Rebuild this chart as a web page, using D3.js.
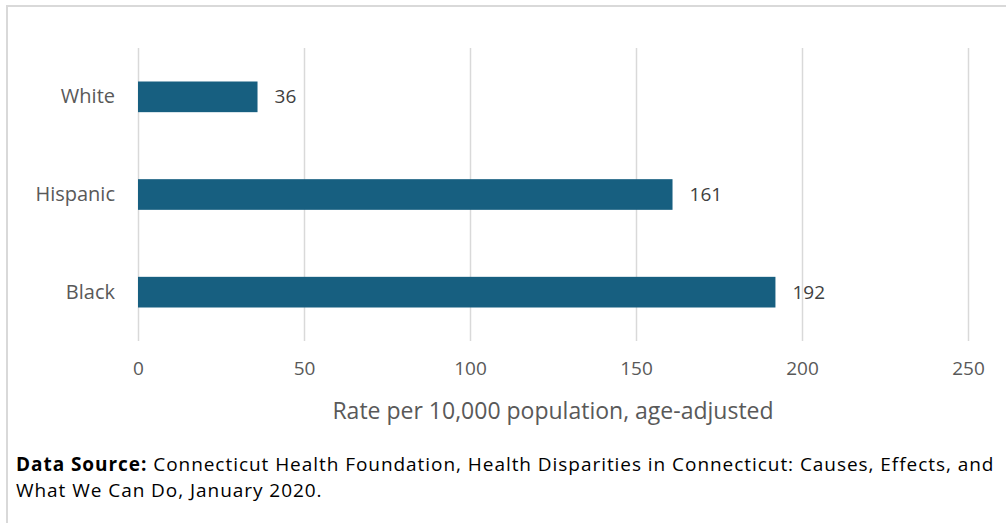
<!DOCTYPE html>
<html>
<head>
<meta charset="utf-8">
<script src="https://cdn.jsdelivr.net/npm/d3@7"></script>
<style>
  body { margin: 0; background: #fff; }
  svg { display: block; font-family: "Open Sans", sans-serif; }
</style>
</head>
<body>
<svg id="chart" width="1006" height="523"></svg>
<script>
// data
var groups = ["White", "Hispanic", "Black"];
var rates = [36, 161, 192];
var xTicks = [0, 50, 100, 150, 200, 250];

var svg = d3.select("#chart");

// outer frame, only top and left show in the picture
svg.append("rect")
  .attr("x", 7).attr("y", 6)
  .attr("width", 1020).attr("height", 540)
  .attr("fill", "none")
  .attr("stroke", "#d9d9d9")
  .attr("stroke-width", 2);

var x = d3.scaleLinear().domain([0, 250]).range([138, 968]);
var y = d3.scaleBand().domain(groups).range([48, 341])
  .paddingInner(0.686).paddingOuter(0.343);

// gridlines + tick labels
var xAxis = svg.append("g")
  .attr("transform", "translate(0,341)")
  .call(d3.axisBottom(x).tickValues(xTicks).tickSize(-293).tickPadding(21));
xAxis.select(".domain").remove();
xAxis.selectAll(".tick line").attr("stroke", "#d9d9d9").attr("stroke-width", 1.5);
xAxis.selectAll(".tick text")
  .attr("fill", "#595959")
  .style("font-size", "19px")
  .style("font-family", "'Open Sans', sans-serif");

var yAxis = svg.append("g")
  .attr("transform", "translate(138,0)")
  .call(d3.axisLeft(y).tickSize(0).tickPadding(23));
yAxis.select(".domain").remove();
yAxis.selectAll(".tick text")
  .attr("fill", "#595959")
  .style("font-size", "20px")
  .style("font-family", "'Open Sans', sans-serif");

// bars
svg.selectAll(".bar")
  .data(rates)
  .enter().append("rect")
  .attr("class", "bar")
  .attr("x", x(0))
  .attr("y", function(d, i) { return y(groups[i]); })
  .attr("width", function(d) { return x(d) - x(0); })
  .attr("height", y.bandwidth())
  .attr("fill", "#175f80");

// value labels
svg.selectAll(".val")
  .data(rates)
  .enter().append("text")
  .attr("class", "val")
  .attr("x", function(d) { return x(d) + 17; })
  .attr("y", function(d, i) { return y(groups[i]) + y.bandwidth() / 2; })
  .attr("dy", "0.35em")
  .attr("fill", "#404040")
  .style("font-size", "19px")
  .text(function(d) { return d; });

// axis title
svg.append("text")
  .attr("x", 553).attr("y", 419)
  .attr("text-anchor", "middle")
  .attr("fill", "#595959")
  .style("font-size", "23px")
  .text("Rate per 10,000 population, age-adjusted");

// source note, two lines
var note = svg.append("text")
  .attr("x", 16).attr("y", 471)
  .attr("fill", "#000")
  .style("font-size", "19px")
  .style("letter-spacing", "0.95px");
note.append("tspan").style("font-weight", "bold").text("Data Source:");
note.append("tspan").text(" Connecticut Health Foundation, Health Disparities in Connecticut: Causes, Effects, and");
svg.append("text")
  .attr("x", 16).attr("y", 497)
  .attr("fill", "#000")
  .style("font-size", "19px")
  .style("letter-spacing", "0.95px")
  .text("What We Can Do, January 2020.");
</script>
</body>
</html>
